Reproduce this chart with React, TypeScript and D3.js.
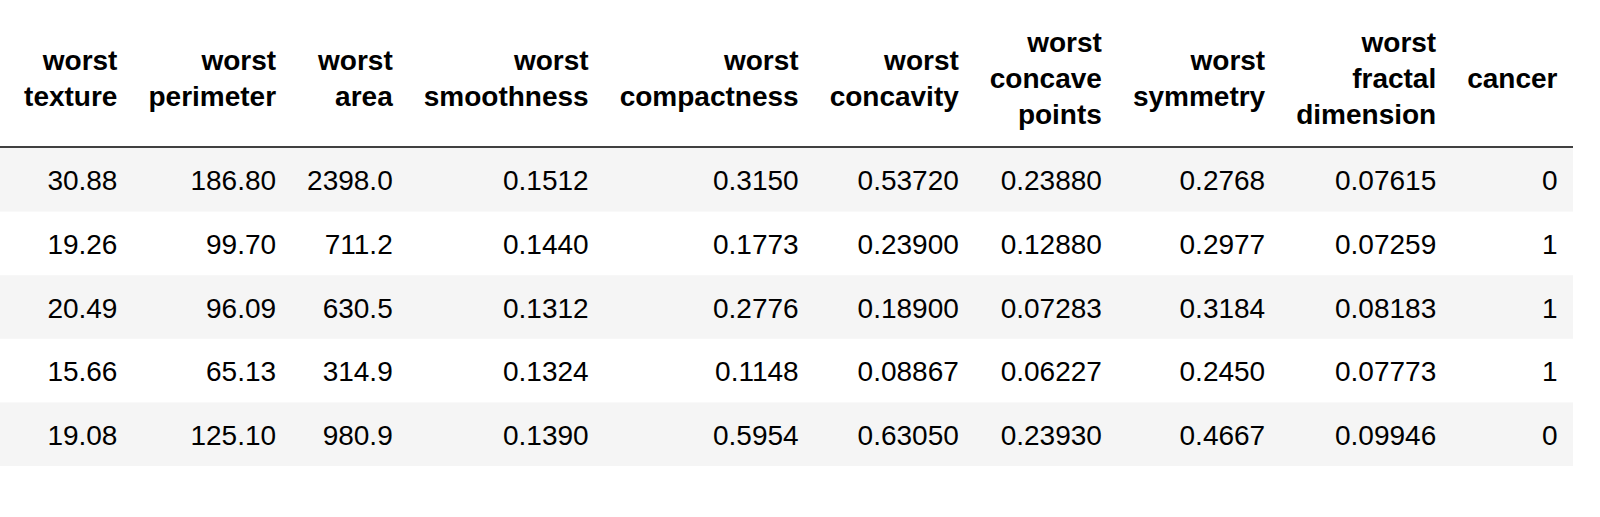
import React, { useEffect, useRef } from "react";
import * as d3 from "d3";

// column headers (each word ends up on its own line, like the notebook render)
const columns = [
  "worst texture",
  "worst perimeter",
  "worst area",
  "worst smoothness",
  "worst compactness",
  "worst concavity",
  "worst concave points",
  "worst symmetry",
  "worst fractal dimension",
  "cancer",
];

// decimals pandas used for each column
const decimals = [2, 2, 1, 4, 4, 5, 5, 4, 5, 0];

const worstTexture = [30.88, 19.26, 20.49, 15.66, 19.08];
const worstPerimeter = [186.8, 99.7, 96.09, 65.13, 125.1];
const worstArea = [2398.0, 711.2, 630.5, 314.9, 980.9];
const worstSmoothness = [0.1512, 0.144, 0.1312, 0.1324, 0.139];
const worstCompactness = [0.315, 0.1773, 0.2776, 0.1148, 0.5954];
const worstConcavity = [0.5372, 0.239, 0.189, 0.08867, 0.6305];
const worstConcavePoints = [0.2388, 0.1288, 0.07283, 0.06227, 0.2393];
const worstSymmetry = [0.2768, 0.2977, 0.3184, 0.245, 0.4667];
const worstFractalDimension = [0.07615, 0.07259, 0.08183, 0.07773, 0.09946];
const cancer = [0, 1, 1, 1, 0];

const values = [
  worstTexture,
  worstPerimeter,
  worstArea,
  worstSmoothness,
  worstCompactness,
  worstConcavity,
  worstConcavePoints,
  worstSymmetry,
  worstFractalDimension,
  cancer,
];

const WIDTH = 1600;
const HEIGHT = 517;
const FONT = "'Liberation Sans', Arial, Helvetica, sans-serif";
const FONT_SIZE = 28;

const Table = () => {
  const svgRef = useRef(null);

  useEffect(() => {
    const svg = d3.select(svgRef.current);
    svg.selectAll("*").remove();

    const pad = 15.5;
    const tableRight = 1573;
    const headerBottom = 147;
    const rowHeight = 63.6;
    const lineHeight = 36;
    const headerMid = 87.5;
    const nRows = worstTexture.length;

    const fmt = decimals.map(d => d3.format(`.${d}f`));

    // measure text to size columns like an html table would
    const probe = svg.append("text")
      .attr("font-family", FONT)
      .attr("font-size", FONT_SIZE);
    const textWidth = (s, bold) => {
      probe.attr("font-weight", bold ? "bold" : "normal").text(s);
      return probe.node().getComputedTextLength();
    };
    const colWidths = columns.map((c, i) => Math.max(
      ...c.split(" ").map(w => textWidth(w, true)),
      ...values[i].map(v => textWidth(fmt[i](v), false))
    ));
    probe.remove();

    const total = d3.sum(colWidths) + colWidths.length * pad * 2;
    const x0 = tableRight - total;
    const rights = [];
    let acc = x0;
    colWidths.forEach(w => {
      rights.push(acc + pad + w);
      acc += w + pad * 2;
    });

    const y = d3.scaleBand()
      .domain(d3.range(nRows))
      .range([headerBottom + 1, headerBottom + 1 + rowHeight * nRows]);

    // striped rows
    svg.append("g")
      .selectAll("rect")
      .data(d3.range(nRows).filter(i => i % 2 === 0))
      .join("rect")
      .attr("x", 0)
      .attr("y", i => y(i))
      .attr("width", tableRight)
      .attr("height", y.bandwidth())
      .attr("fill", "#f5f5f5");

    // header rule
    svg.append("line")
      .attr("x1", 0)
      .attr("x2", tableRight)
      .attr("y1", headerBottom)
      .attr("y2", headerBottom)
      .attr("stroke", "#000")
      .attr("stroke-width", 1.6);

    // header labels
    const head = svg.append("g")
      .attr("font-family", FONT)
      .attr("font-size", FONT_SIZE)
      .attr("font-weight", "bold")
      .attr("text-anchor", "end")
      .attr("fill", "#000");

    columns.forEach((c, i) => {
      const words = c.split(" ");
      const start = headerMid - (words.length - 1) * lineHeight / 2;
      head.append("g")
        .selectAll("text")
        .data(words)
        .join("text")
        .attr("x", rights[i])
        .attr("y", (d, j) => start + j * lineHeight)
        .text(d => d);
    });

    // body cells
    const body = svg.append("g")
      .attr("font-family", FONT)
      .attr("font-size", FONT_SIZE)
      .attr("text-anchor", "end")
      .attr("fill", "#000");

    values.forEach((col, i) => {
      body.append("g")
        .selectAll("text")
        .data(col)
        .join("text")
        .attr("x", rights[i])
        .attr("y", (d, r) => y(r) + y.bandwidth() / 2 + 10.5)
        .text(d => fmt[i](d));
    });
  }, []);

  return (
    <svg
      ref={svgRef}
      width={WIDTH}
      height={HEIGHT}
      style={{ position: "absolute", left: 0, top: 0, background: "#fff" }}
    />
  );
};

const App = () => <Table />;

export default App;
